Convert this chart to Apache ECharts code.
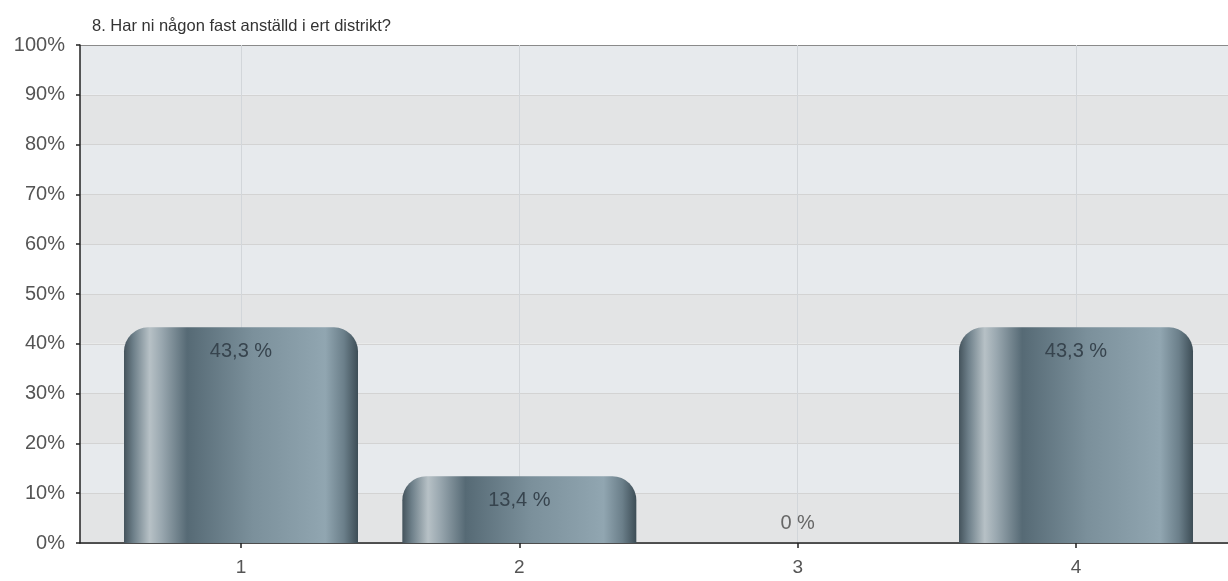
<!DOCTYPE html>
<html>
<head>
<meta charset="utf-8">
<script src="https://cdn.jsdelivr.net/npm/echarts@6/dist/echarts.min.js"></script>
<style>
html,body{margin:0;padding:0;background:#fff;}
#c{width:1228px;height:581px;}
</style>
</head>
<body>
<div id="c"></div>
<script>
const title = '8. Har ni någon fast anställd i ert distrikt?';
const categories = ['1', '2', '3', '4'];
const values = [43.3, 13.4, 0, 43.3];
const yTicks = [0, 10, 20, 30, 40, 50, 60, 70, 80, 90, 100];

const chart = echarts.init(document.getElementById('c'));
const fmt = v => String(v).replace('.', ',') + ' %';
const FONT = 'Liberation Sans, Arial, sans-serif';

const barGradient = new echarts.graphic.LinearGradient(0, 0, 1, 0, [
  {offset: 0, color: '#44535c'},
  {offset: 0.04, color: '#6d7f89'},
  {offset: 0.11, color: '#b7c1c6'},
  {offset: 0.16, color: '#9aa8b0'},
  {offset: 0.27, color: '#566a75'},
  {offset: 0.55, color: '#7b909b'},
  {offset: 0.86, color: '#91a6b1'},
  {offset: 0.94, color: '#6b7f8a'},
  {offset: 1, color: '#3d4d56'}
]);

const splitColors = yTicks.map((t, i) => i === yTicks.length - 1 ? '#8a8a8a' : '#d3d3d3');

chart.setOption({
  animation: false,
  backgroundColor: '#ffffff',
  title: {
    text: title,
    left: 87, top: 13,
    textStyle: {fontFamily: FONT, fontSize: 16.5, fontWeight: 'normal', color: '#333'}
  },
  grid: [
    {left: 80, right: 0, top: 45, bottom: 38},
    {left: 241, right: 152, top: 45, bottom: 38}
  ],
  xAxis: [
    {
      gridIndex: 0, type: 'value', min: 0, max: 1,
      axisLine: {show: true, onZero: false, lineStyle: {color: '#222', width: 1.5}},
      axisTick: {show: false}, axisLabel: {show: false}, splitLine: {show: false}
    },
    {
      gridIndex: 1, type: 'category', data: categories, boundaryGap: false,
      axisLine: {show: false},
      axisTick: {show: true, length: 5, lineStyle: {color: '#222', width: 1.5}},
      axisLabel: {color: '#555', fontSize: 19, margin: 15, fontFamily: FONT},
      splitLine: {show: true, lineStyle: {color: '#d2d6da', width: 1}}
    }
  ],
  yAxis: [
    {
      gridIndex: 0, type: 'value', min: 0, max: 100, interval: 10,
      axisLine: {show: true, lineStyle: {color: '#222', width: 1.5}},
      axisTick: {show: true, inside: false, length: 4, lineStyle: {color: '#222', width: 1.5}},
      axisLabel: {formatter: '{value}%', color: '#555', fontSize: 20, margin: 15, fontFamily: FONT},
      splitLine: {show: true, lineStyle: {color: splitColors, width: 1}},
      splitArea: {show: true, areaStyle: {color: ['#e3e4e5', '#e7eaed']}}
    },
    {
      gridIndex: 1, type: 'value', min: 0, max: 100, interval: 10,
      show: false
    }
  ],
  series: [{
    type: 'bar',
    xAxisIndex: 1, yAxisIndex: 1,
    clip: false,
    barWidth: 234,
    data: values.map(v => v === 0
      ? {value: v, label: {position: 'top', distance: 10, color: '#666'}}
      : {value: v}),
    itemStyle: {color: barGradient, borderRadius: [24, 24, 0, 0]},
    label: {
      show: true, position: 'insideTop', distance: 14,
      formatter: p => fmt(p.value),
      color: '#37444e', fontSize: 20, fontFamily: FONT
    }
  }]
});
</script>
</body>
</html>
